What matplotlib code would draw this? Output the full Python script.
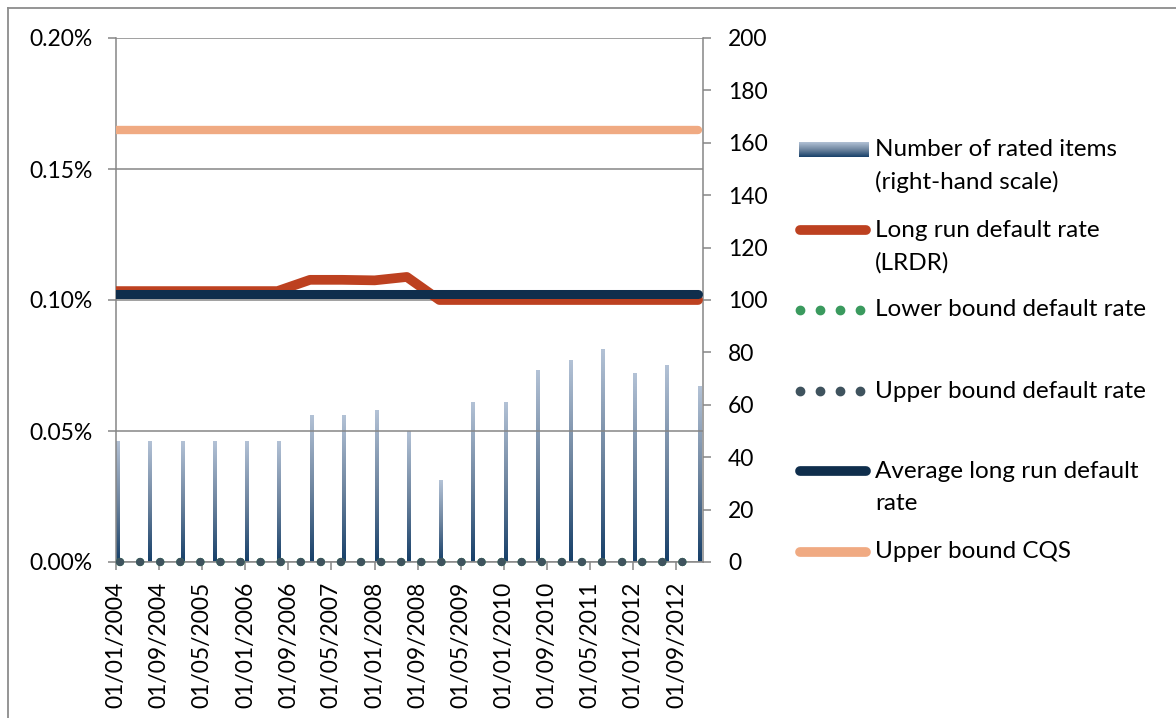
import datetime as dt

import matplotlib
matplotlib.use('Agg')
import matplotlib.dates as mdates
import matplotlib.pyplot as plt
import numpy as np
from matplotlib.colors import LinearSegmentedColormap
from matplotlib.lines import Line2D
from matplotlib.ticker import MultipleLocator, PercentFormatter

plt.rcParams['font.family'] = ['Lato', 'DejaVu Sans']

# semi-annual observation dates
dates = ['2004-01-01', '2004-07-01', '2005-01-01', '2005-07-01', '2006-01-01',
         '2006-07-01', '2007-01-01', '2007-07-01', '2008-01-01', '2008-07-01',
         '2009-01-01', '2009-07-01', '2010-01-01', '2010-07-01', '2011-01-01',
         '2011-07-01', '2012-01-01', '2012-07-01', '2013-01-01']

rated_items = [46, 46, 46, 46, 46, 46, 56, 56, 58, 50,
               31, 61, 61, 73, 77, 81, 72, 75, 67]

lrdr = [0.001034, 0.001034, 0.001034, 0.001034, 0.001034, 0.001034, 0.001077,
        0.001077, 0.001075, 0.001088, 0.001000, 0.001000, 0.001000, 0.001000,
        0.001000, 0.001000, 0.001000, 0.001000, 0.001000]

lower_bound = [0.0, 0.0, 0.0, 0.0, 0.0, 0.0, 0.0, 0.0, 0.0, 0.0,
               0.0, 0.0, 0.0, 0.0, 0.0, 0.0, 0.0, 0.0, 0.0]

upper_bound = [0.0, 0.0, 0.0, 0.0, 0.0, 0.0, 0.0, 0.0, 0.0, 0.0,
               0.0, 0.0, 0.0, 0.0, 0.0, 0.0, 0.0, 0.0, 0.0]

avg_lrdr = [0.001023, 0.001023, 0.001023, 0.001023, 0.001023, 0.001023, 0.001023,
            0.001023, 0.001023, 0.001023, 0.001023, 0.001023, 0.001023, 0.001023,
            0.001023, 0.001023, 0.001023, 0.001023, 0.001023]

upper_cqs = [0.00165, 0.00165, 0.00165, 0.00165, 0.00165, 0.00165, 0.00165,
             0.00165, 0.00165, 0.00165, 0.00165, 0.00165, 0.00165, 0.00165,
             0.00165, 0.00165, 0.00165, 0.00165, 0.00165]

tick_dates = ['2004-01-01', '2004-09-01', '2005-05-01', '2006-01-01', '2006-09-01',
              '2007-05-01', '2008-01-01', '2008-09-01', '2009-05-01', '2010-01-01',
              '2010-09-01', '2011-05-01', '2012-01-01', '2012-09-01']

legend_labels = [
    ['Number of rated items', '(right-hand scale)'],
    ['Long run default rate', '(LRDR)'],
    ['Lower bound default rate'],
    ['Upper bound default rate'],
    ['Average long run default', 'rate'],
    ['Upper bound CQS'],
]

C_GRID = '#868686'
C_LRDR = '#BD4120'
C_LOWER = '#3A9A5E'
C_UPPER = '#3F535E'
C_AVG = '#0F2E4C'
C_CQS = '#F0AA82'
bar_cmap = LinearSegmentedColormap.from_list('bars', ['#163F69', '#6F86A0', '#B3C2D6'])

W, H = 1176, 718
FS = 16.5
FS_LEG = 17.5


def fx(x):
    return x / W


def fy(y):
    return 1 - y / H


def to_dt(s):
    return dt.datetime.strptime(s, '%Y-%m-%d')


def main():
    x = [to_dt(d) for d in dates]
    xn = mdates.date2num(x)

    fig = plt.figure(figsize=(W / 100, H / 100), dpi=100)
    ax = fig.add_axes([fx(116), fy(562), fx(703) - fx(116), fy(38) - fy(562)])
    ax2 = ax.twinx()
    ax.set_zorder(ax2.get_zorder() + 1)
    ax.patch.set_visible(False)

    # lines on the left-hand scale
    dots = (1.93, (0.01, 2.4))
    ax.plot(x, lrdr, color=C_LRDR, lw=7, solid_capstyle='round', zorder=3)
    ax.plot(x, lower_bound, color=C_LOWER, lw=6, ls=dots, dash_capstyle='round',
            clip_on=False, zorder=4)
    ax.plot(x, upper_bound, color=C_UPPER, lw=6, ls=dots, dash_capstyle='round',
            clip_on=False, zorder=4)
    ax.plot(x, avg_lrdr, color=C_AVG, lw=6.5, solid_capstyle='round', zorder=3)
    ax.plot(x, upper_cqs, color=C_CQS, lw=6, solid_capstyle='round', zorder=3)

    # gradient bars on the right-hand scale
    grad = np.linspace(0, 1, 256).reshape(-1, 1)
    bar_days = 18
    for xv, h in zip(xn, rated_items):
        ax2.imshow(grad, extent=[xv, xv + bar_days, 0, h], aspect='auto',
                   cmap=bar_cmap, origin='lower', interpolation='bicubic', zorder=2)

    ax.set_xlim(to_dt('2004-01-01'), to_dt('2013-01-29'))
    ax.set_ylim(0, 0.002)
    ax2.set_ylim(0, 200)

    ax.yaxis.set_major_locator(MultipleLocator(0.0005))
    ax.yaxis.set_major_formatter(PercentFormatter(1.0, decimals=2))
    ax2.yaxis.set_major_locator(MultipleLocator(20))
    ax.grid(axis='y', color=C_GRID, lw=1.1, zorder=1)

    ax.set_xticks([mdates.date2num(to_dt(d)) for d in tick_dates])
    ax.xaxis.set_major_formatter(mdates.DateFormatter('%d/%m/%Y'))

    for a in (ax, ax2):
        for s in a.spines.values():
            s.set_visible(False)
    ax.spines['left'].set_visible(True)
    ax.spines['bottom'].set_visible(True)
    ax2.spines['right'].set_visible(True)
    for s in (ax.spines['left'], ax.spines['bottom'], ax2.spines['right']):
        s.set_color(C_GRID)
        s.set_linewidth(1.1)

    ax.tick_params(axis='y', length=6, width=1.1, color=C_GRID, labelsize=FS, pad=11)
    ax.tick_params(axis='x', length=6, width=1.1, color=C_GRID, labelsize=FS, pad=8,
                   labelrotation=90)
    ax2.tick_params(axis='y', length=6, width=1.1, color=C_GRID, labelsize=FS, pad=12)

    # legend, laid out by hand
    entry_y = [149, 230, 310, 391, 471, 552]
    gax = fig.add_axes([fx(799), fy(157), fx(868) - fx(799), fy(142) - fy(157)])
    gax.imshow(grad, aspect='auto', cmap=bar_cmap, origin='lower',
               extent=[0, 1, 0, 1], interpolation='bicubic')
    gax.axis('off')

    def hline(y, color):
        fig.add_artist(Line2D([fx(800), fx(866)], [fy(y), fy(y)], color=color, lw=7,
                              solid_capstyle='round', transform=fig.transFigure))

    def dotted(y, color):
        fig.add_artist(Line2D([fx(800), fx(820), fx(840), fx(860)], [fy(y)] * 4,
                              ls='none', marker='o', ms=6, color=color,
                              transform=fig.transFigure))

    hline(entry_y[1], C_LRDR)
    dotted(entry_y[2], C_LOWER)
    dotted(entry_y[3], C_UPPER)
    hline(entry_y[4], C_AVG)
    hline(entry_y[5], C_CQS)

    for y, lines in zip(entry_y, legend_labels):
        for i, line in enumerate(lines):
            fig.text(fx(875), fy(y + 33 * i), line, fontsize=FS_LEG, va='center', ha='left')

    # outer chart frame
    fig.add_artist(Line2D([fx(8), fx(8)], [fy(8), fy(718)], color='#8C8C8C', lw=1.3,
                          transform=fig.transFigure))
    fig.add_artist(Line2D([fx(8), fx(1176)], [fy(8), fy(8)], color='#8C8C8C', lw=1.3,
                          transform=fig.transFigure))

    fig.savefig('out.png', dpi=100)
    plt.close(fig)


if __name__ == '__main__':
    main()
